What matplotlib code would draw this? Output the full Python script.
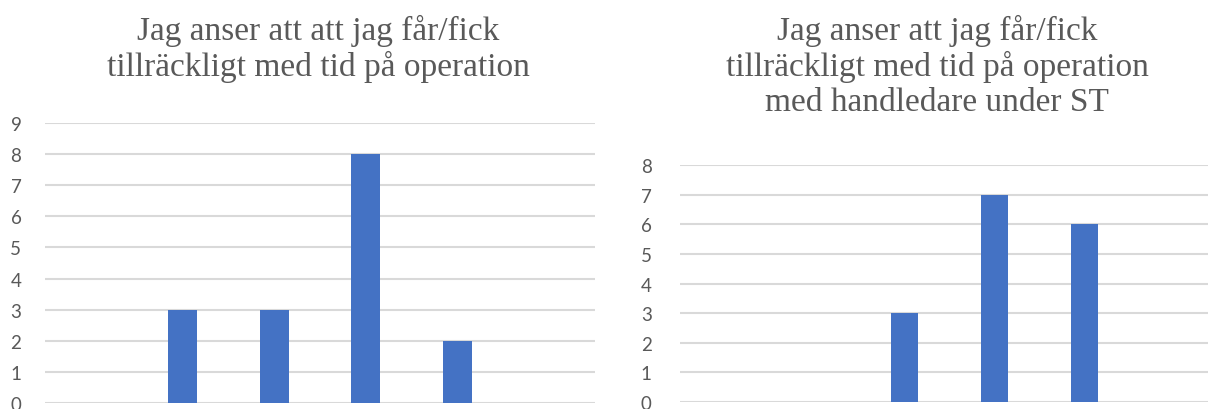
import numpy as np
import matplotlib.pyplot as plt

# data
categories = ['1', '2', '3', '4', '5', '6']
left_values = [0, 3, 3, 8, 2, 0]
right_values = [0, 0, 3, 7, 6, 0]
left_title = 'Jag anser att att jag får/fick\ntillräckligt med tid på operation'
right_title = 'Jag anser att jag får/fick\ntillräckligt med tid på operation\nmed handledare under ST'

bar_color = '#4472c4'
grid_color = '#d9d9d9'
text_color = '#595959'

W, H = 1208, 410
fig = plt.figure(figsize=(W / 100, H / 100), dpi=100)


def px_axes(x0, y_top, width, y_bottom):
    # axes from pixel coordinates (origin top-left)
    return fig.add_axes([x0 / W, 1 - y_bottom / H, width / W, (y_bottom - y_top) / H])


def style(ax, ymax, pad):
    ax.set_xlim(-0.5, len(categories) - 0.5)
    ax.set_ylim(0, ymax)
    ax.set_yticks(range(ymax + 1))
    ax.set_xticks([])
    for s in ax.spines.values():
        s.set_visible(False)
    ax.grid(axis='y', color=grid_color, lw=1.5)
    ax.set_axisbelow(True)
    ax.tick_params(axis='y', length=0, pad=pad, labelsize=13.5, labelcolor=text_color)
    for lab in ax.get_yticklabels():
        lab.set_fontfamily('Lato')


x = np.arange(len(categories))

ax1 = px_axes(45, 124, 550, 404)
ax1.bar(x, left_values, width=0.32, color=bar_color, zorder=3)
style(ax1, 9, 17)

ax2 = px_axes(679.5, 166, 540, 403)
ax2.bar(x, right_values, width=0.31, color=bar_color, zorder=3)
style(ax2, 8, 20)

fig.text(318 / W, 1 - 15 / H, left_title, ha='center', va='top', family='Liberation Serif',
         fontsize=24, color=text_color, linespacing=1.17)
fig.text(937 / W, 1 - 15 / H, right_title, ha='center', va='top', family='Liberation Serif',
         fontsize=24, color=text_color, linespacing=1.17)

fig.savefig('out.png', dpi=100)
